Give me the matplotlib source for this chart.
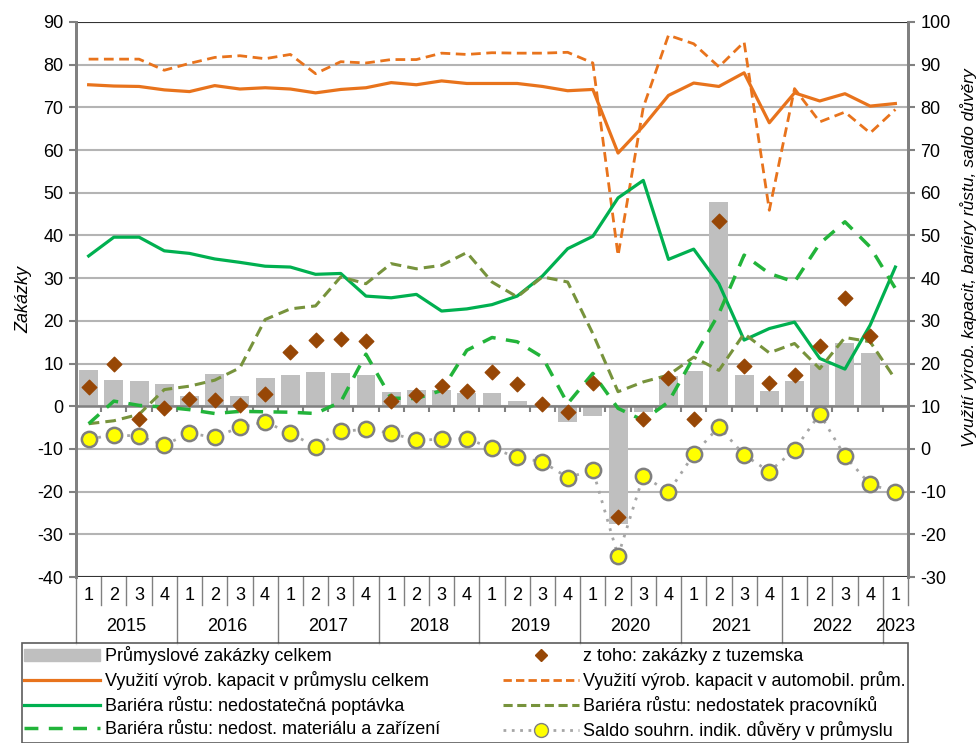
import matplotlib.pyplot as plt
from matplotlib.patches import Patch
from matplotlib.lines import Line2D

plt.rcParams['font.family'] = ['Liberation Sans', 'DejaVu Sans']
plt.rcParams['axes.unicode_minus'] = False

years = ['2015', '2016', '2017', '2018', '2019', '2020', '2021', '2022', '2023']
quarters = ['1', '2', '3', '4'] * 8 + ['1']

# left axis: orders
orders_total = [8.4, 6.2, 5.9, 5.1, 2.5, 7.5, 2.3, 6.5, 7.2, 8.1, 7.9, 7.3,
                3.4, 3.7, 3.7, 3.0, 3.1, 1.3, 0.3, -3.8, -2.2, -27.5, -1.3, 7.0,
                8.3, 47.8, 7.3, 3.5, 6.0, 10.1, 14.8, 12.5, None]
orders_domestic = [4.4, 9.9, -3.0, -0.3, 1.6, 1.5, 0.2, 2.8, 12.6, 15.6, 15.8, 15.3,
                   1.3, 2.6, 4.8, 3.5, 8.0, 5.3, 0.5, -1.4, 5.5, -25.9, -3.1, 6.7,
                   -2.9, 43.4, 9.4, 5.4, 7.2, 14.2, 25.4, 16.5, None]

# right axis
cap_util = [85.3, 85.0, 84.9, 84.1, 83.7, 85.1, 84.3, 84.6, 84.3, 83.4, 84.2, 84.6,
            85.8, 85.3, 86.2, 85.6, 85.6, 85.6, 84.9, 83.9, 84.2, 69.3, 75.6, 82.8,
            85.7, 84.9, 88.1, 76.4, 83.4, 81.5, 83.2, 80.3, 80.9]
cap_auto = [91.3, 91.3, 91.3, 88.7, 90.3, 91.7, 92.1, 91.4, 92.4, 87.9, 90.7, 90.4,
            91.2, 91.2, 92.7, 92.4, 92.8, 92.7, 92.7, 92.9, 90.4, 45.3, 80.0, 96.9,
            94.9, 89.5, 95.3, 55.9, 84.4, 76.6, 78.9, 74.0, 79.5]
bar_demand = [45.2, 49.6, 49.6, 46.4, 45.8, 44.5, 43.7, 42.8, 42.6, 40.9, 41.1, 35.8,
              35.4, 36.2, 32.3, 32.8, 33.8, 35.8, 40.5, 46.9, 49.8, 58.8, 62.9, 44.4,
              46.8, 38.7, 25.5, 28.2, 29.7, 21.2, 18.7, 29.0, 42.6]
bar_labour = [5.9, 6.6, 8.1, 13.9, 14.7, 16.1, 19.0, 30.3, 32.8, 33.5, 40.3, 38.7,
              43.4, 42.2, 43.0, 46.0, 39.1, 35.6, 40.3, 39.1, 27.0, 13.4, 15.7, 17.3,
              21.5, 18.4, 27.0, 22.5, 24.7, 18.8, 26.1, 25.1, 16.3]
bar_material = [5.9, 11.2, 10.2, 9.8, 9.2, 8.3, 8.8, 8.7, 8.6, 8.3, 11.0, 22.2,
                11.9, 11.8, 13.7, 23.1, 26.1, 25.1, 21.5, 10.6, 17.7, 9.5, 6.7, 11.0,
                21.5, 31.7, 45.4, 41.1, 39.1, 48.1, 53.2, 47.3, 37.6]
confidence = [2.3, 3.3, 3.0, 0.9, 3.7, 2.7, 5.1, 6.3, 3.7, 0.5, 4.1, 4.6,
              3.7, 2.0, 2.3, 2.4, 0.2, -2.0, -3.0, -6.7, -5.0, -25.1, -6.3, -10.1,
              -1.3, 5.2, -1.4, -5.3, -0.2, 8.2, -1.7, -8.3, -10.1]

x = list(range(len(quarters)))

fig = plt.figure(figsize=(9.8, 7.43), dpi=100)
ax = fig.add_axes([0.0776, 0.2234, 0.8489, 0.747])
ax2 = ax.twinx()

grey = '#808080'
ax.set_zorder(1)
ax2.set_zorder(2)
ax2.patch.set_visible(False)

ax.set_ylim(-40, 90)
ax.set_yticks(range(-40, 91, 10))
ax.set_xlim(-0.5, 32.5)
ax2.set_ylim(-30, 100)
ax2.set_yticks(range(-30, 101, 10))
ax.grid(axis='y', color='#b4b4b4', lw=1.5)
ax.set_axisbelow(True)

bx = [i for i, v in enumerate(orders_total) if v is not None]
bv = [v for v in orders_total if v is not None]
ax.bar(bx, bv, width=0.75, color='#bfbfbf', zorder=2)
ax.axhline(0, color=grey, lw=1.8, zorder=3)
ax.vlines([i + 0.5 for i in x[:-1]], -1.3, 0, color=grey, lw=1.5, zorder=3)

dx = [i for i, v in enumerate(orders_domestic) if v is not None]
dv = [v for v in orders_domestic if v is not None]

ax2.plot(x, cap_util, color='#e8731c', lw=2.3)
ax2.plot(x, cap_auto, color='#e8731c', lw=2, ls=(0, (3.5, 2)))
ax2.plot(x, bar_demand, color='#00b050', lw=2.3)
ax2.plot(x, bar_labour, color='#77933c', lw=2.2, ls=(0, (3.5, 2)))
ax2.plot(x, bar_material, color='#22b43a', lw=2.5, ls=(0, (4, 3)))
ax2.plot(x, confidence, color='#a6a6a6', lw=2, ls=(0, (1, 2.5)),
         marker='o', ms=11, mfc='#ffff00', mec='#7f7f7f', mew=1.8)
# domestic orders are on the left scale, right = left + 10
ax2.scatter(dx, [v + 10 for v in dv], marker='D', s=55,
            color='#974706', zorder=5)

for a in (ax, ax2):
    for s in ('top', 'bottom'):
        a.spines[s].set_visible(False)
    a.spines['left'].set_color(grey)
    a.spines['right'].set_color(grey)
    a.spines['left'].set_linewidth(2)
    a.spines['right'].set_linewidth(2)
ax.axhline(90, color='#333333', lw=1.5, zorder=3)
ax.axhline(-40, color='#333333', lw=1.5, zorder=3)

ax.tick_params(axis='y', labelsize=13, color=grey, length=5, width=1.5, pad=4)
ax2.tick_params(axis='y', labelsize=13, color=grey, length=5, width=1.5, pad=4)

ax.set_xticks(x)
ax.set_xticklabels(quarters, fontsize=13)
ax.tick_params(axis='x', length=0, pad=7)

trans = ax.get_xaxis_transform()
for i in range(len(x) + 1):
    pos = i - 0.5
    y0 = -0.12 if i % 4 == 0 else -0.05
    ax.plot([pos, pos], [0, y0], transform=trans, color=grey, lw=1,
            clip_on=False)
for k, yr in enumerate(years):
    c = 4 * k + 1.5 if k < 8 else 32
    ax.text(c, -0.09, yr, transform=trans, ha='center', va='center',
            fontsize=13)

ax.set_ylabel('Zakázky', fontsize=13, style='italic', labelpad=4)
ax2.set_ylabel('Využití výrob. kapacit, bariéry růstu, saldo důvěry',
               fontsize=12.5, style='italic')
ax2.yaxis.set_label_coords(1.063, 0.575)

handles = [
    Patch(color='#bfbfbf'),
    Line2D([], [], color='#e8731c', lw=2.3),
    Line2D([], [], color='#00b050', lw=2.3),
    Line2D([], [], color='#22b43a', lw=2.5, ls=(0, (4, 3))),
    Line2D([], [], color='none', marker='D', ms=6, mfc='#974706', mec='#974706'),
    Line2D([], [], color='#e8731c', lw=2, ls=(0, (3, 1.5))),
    Line2D([], [], color='#77933c', lw=2.2, ls=(0, (3, 1.5))),
    Line2D([], [], color='#a6a6a6', lw=2, ls=(0, (1, 2)), marker='o', ms=10,
           mfc='#ffff00', mec='#7f7f7f'),
]
labels = [
    'Průmyslové zakázky celkem',
    'Využití výrob. kapacit v průmyslu celkem',
    'Bariéra růstu: nedostatečná poptávka',
    'Bariéra růstu: nedost. materiálu a zařízení',
    'z toho: zakázky z tuzemska',
    'Využití výrob. kapacit v automobil. prům.',
    'Bariéra růstu: nedostatek pracovníků',
    'Saldo souhrn. indik. důvěry v průmyslu',
]
leg = fig.legend(handles, labels, ncol=2, loc='upper left',
                 bbox_to_anchor=(0.022, 0.134), fontsize=13, frameon=True,
                 fancybox=False, edgecolor='#333333', handlelength=4.2,
                 handletextpad=0.25, columnspacing=3.5, labelspacing=0.33,
                 borderpad=0.15, borderaxespad=0)
leg.get_frame().set_linewidth(1.2)

fig.savefig('out.png', dpi=100)
